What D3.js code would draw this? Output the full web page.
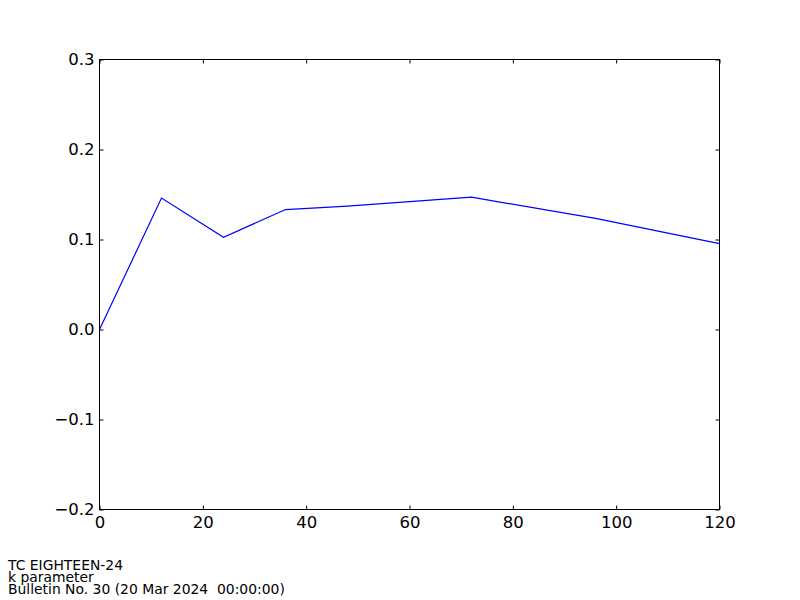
<!DOCTYPE html>
<html><head><meta charset="utf-8">
<script src="https://cdn.jsdelivr.net/npm/d3@7"></script>
<style>body{margin:0;background:#fff}</style>
</head><body>
<svg id="c" width="800" height="600"></svg>
<script>
const hours = [0, 12, 24, 36, 48, 72, 96, 120];
const kValues = [0, 0.146, 0.1025, 0.1333, 0.137, 0.147, 0.1235, 0.0955];
const xTicks = [0, 20, 40, 60, 80, 100, 120];
const yTicks = [-0.2, -0.1, 0.0, 0.1, 0.2, 0.3];
const footer = ["TC EIGHTEEN-24", "k parameter", "Bulletin No. 30 (20 Mar 2024  00:00:00)"];

(function () {
const svg = d3.select("#c");
const L = 99.5, R = 719.5, T = 59.5, B = 509.5;
const x = d3.scaleLinear().domain([0, 120]).range([L, R]);
const y = d3.scaleLinear().domain([-0.2, 0.3]).range([B, T]);
const font = "DejaVu Sans";

svg.append("rect").attr("width", 800).attr("height", 600).attr("fill", "#fff");

svg.append("path").datum(hours.map((h, i) => [h, kValues[i]]))
  .attr("fill", "none").attr("stroke", "#0000ff").attr("stroke-width", 1.2)
  .attr("d", d3.line().x(d => x(d[0])).y(d => y(d[1])));

const fmtY = d => d3.format(".1f")(d).replace("-", "\u2212");
const gB = svg.append("g").attr("transform", `translate(0,${B})`)
  .call(d3.axisBottom(x).tickValues(xTicks).tickSizeInner(-4).tickSizeOuter(0).tickPadding(7));
const gT = svg.append("g").attr("transform", `translate(0,${T})`)
  .call(d3.axisTop(x).tickValues(xTicks).tickSizeInner(-4).tickSizeOuter(0).tickFormat(""));
const gL = svg.append("g").attr("transform", `translate(${L},0)`)
  .call(d3.axisLeft(y).tickValues(yTicks).tickSizeInner(-4).tickSizeOuter(0).tickPadding(5).tickFormat(fmtY));
const gR = svg.append("g").attr("transform", `translate(${R},0)`)
  .call(d3.axisRight(y).tickValues(yTicks).tickSizeInner(-4).tickSizeOuter(0).tickFormat(""));
[gB, gT, gL, gR].forEach(g => {
  g.select(".domain").remove();
  g.selectAll("line").attr("stroke", "#000");
  g.selectAll("text").attr("fill", "#000").style("font-family", font).style("font-size", "16.5px");
});

svg.append("rect").attr("x", L).attr("y", T).attr("width", R - L).attr("height", B - T)
  .attr("fill", "none").attr("stroke", "#000").attr("stroke-width", 1);

svg.selectAll("text.foot").data(footer).enter().append("text").attr("class", "foot")
  .attr("x", 8).attr("y", (d, i) => 570 + i * 12)
  .style("font-family", font).style("font-size", "13.9px").style("white-space", "pre")
  .attr("fill", "#000")
  .text(d => d);
})();
</script>
</body></html>
